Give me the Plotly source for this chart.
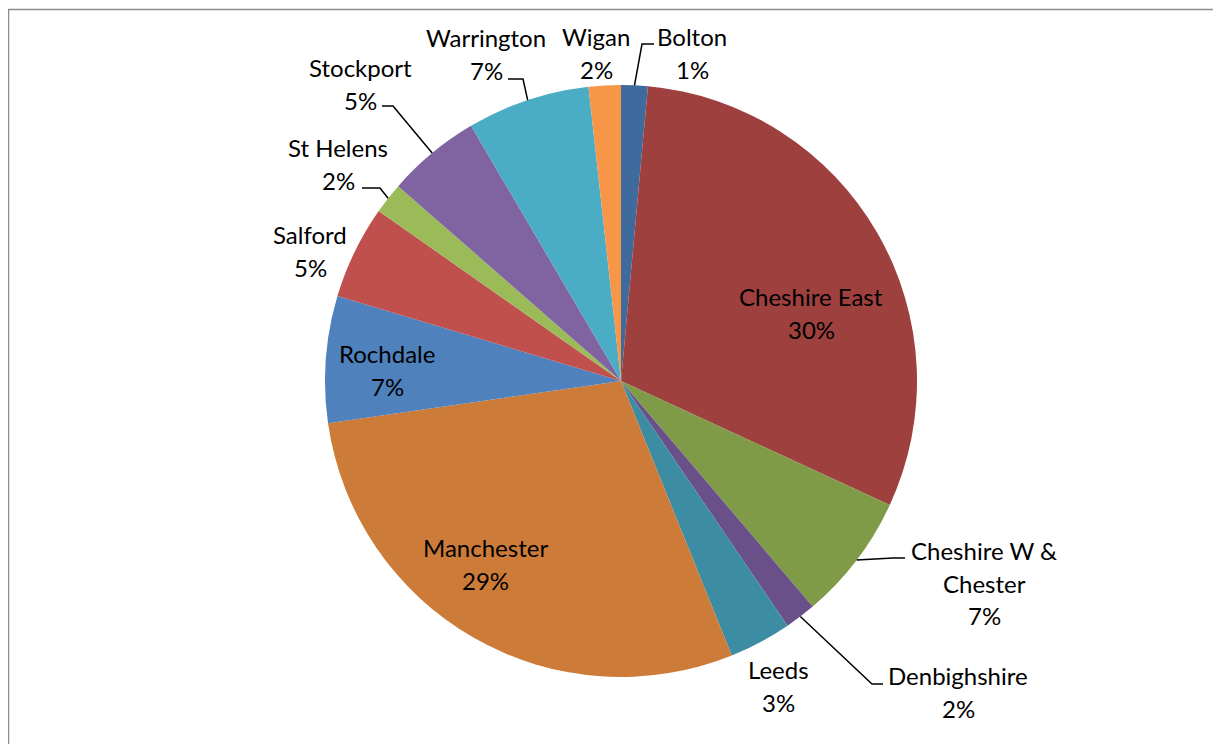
import math
import plotly.graph_objects as go

# data (share of total)
areas = ["Bolton", "Cheshire East", "Cheshire W & Chester", "Denbighshire", "Leeds",
         "Manchester", "Rochdale", "Salford", "St Helens", "Stockport", "Warrington", "Wigan"]
values = [1.45, 30.4, 6.9, 1.7, 3.4, 28.8, 6.9, 5.1, 1.7, 5.1, 6.7, 1.75]
label_lines = {"Cheshire W & Chester": ["Cheshire W &", "Chester"]}

colors = ["#3F6A9E", "#9D403E", "#7F9B48", "#6A5088", "#3C8DA3", "#CD7B38",
          "#4F81BD", "#C0504D", "#9BBB59", "#8064A2", "#4BACC6", "#F79646"]

OFF = 8  # page body margin
W, H = 1221 - OFF, 744 - OFF
cx, cy, r = 621, 381, 296

# label placement (pixels on page, centre of text block) and leader bends
label_pos = {
    "Bolton": (692, 53), "Cheshire East": (811, 313), "Cheshire W & Chester": (984, 583),
    "Denbighshire": (958, 692), "Leeds": (778, 686), "Manchester": (485, 564),
    "Rochdale": (387, 370), "Salford": (310, 251), "St Helens": (338, 164),
    "Stockport": (360, 84), "Warrington": (486, 54), "Wigan": (596, 53),
}
leaders = {
    "Bolton": [(642, 44), (654, 44)],
    "Warrington": [(523, 79), (508, 79)],
    "Stockport": [(393, 106), (382, 106)],
    "St Helens": [(380, 188), (362, 188)],
    "Denbighshire": [(872, 684), (883, 684)],
    "Cheshire W & Chester": [(893, 558), (905, 558)],
}


def px(x, y):
    return (x - OFF) / W, 1 - (y - OFF) / H


dx0, dy0 = px(cx - r, cy + r)
dx1, dy1 = px(cx + r, cy - r)
fig = go.Figure(go.Pie(
    labels=areas, values=values, sort=False, direction="clockwise", rotation=0,
    marker=dict(colors=colors, line=dict(width=0)), textinfo="none",
    hoverinfo="label+percent",
    domain=dict(x=[dx0, dx1], y=[dy0, dy1]),
))

total = sum(values)
font = dict(family="Lato, Calibri, sans-serif", size=24, color="black")
annotations, shapes = [], []
cum = 0
for name, v in zip(areas, values):
    mid = (cum + v / 2) / total * 2 * math.pi
    cum += v
    lines = label_lines.get(name, [name]) + ["%d%%" % round(100 * v / total)]
    lx, ly = label_pos[name]
    step = 32.5
    ys = ly - step * (len(lines) - 1) / 2
    for i, t in enumerate(lines):
        x, y = px(lx, ys + i * step)
        annotations.append(dict(x=x, y=y, xref="paper", yref="paper", text=t,
                                showarrow=False, xanchor="center", yanchor="middle", font=font))
    if name in leaders:
        pts = [(cx + r * math.sin(mid), cy - r * math.cos(mid))] + leaders[name]
        path = "M " + " L ".join("%f,%f" % px(a, b) for a, b in pts)
        shapes.append(dict(type="path", path=path, xref="paper", yref="paper",
                           line=dict(color="black", width=1.5)))

# chart area border
bx0, by0 = px(8.5, 9.5)
bx1, by1 = px(1260, 780)
shapes.append(dict(type="rect", x0=bx0, y0=by1, x1=bx1, y1=by0, xref="paper", yref="paper",
                   line=dict(color="#8C8C8C", width=1.5)))

fig.update_layout(width=W, height=H, margin=dict(l=0, r=0, t=0, b=0),
                  paper_bgcolor="white", plot_bgcolor="white", showlegend=False,
                  annotations=annotations, shapes=shapes)
fig.write_html("out.html")
